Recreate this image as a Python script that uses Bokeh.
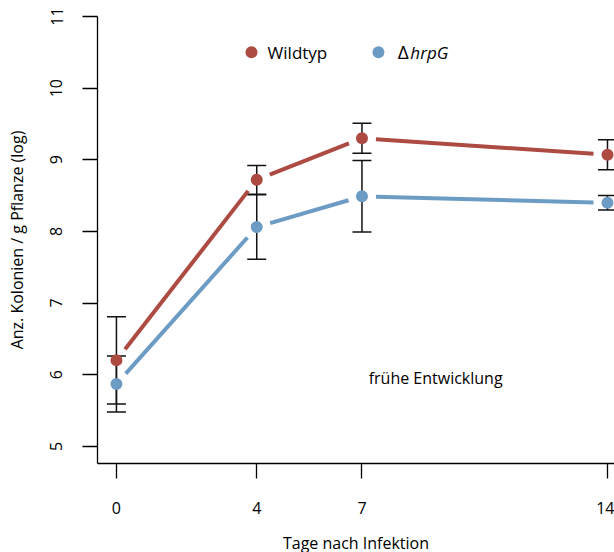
import numpy as np
from bokeh.plotting import figure
from bokeh.models import Range1d, FixedTicker, Whisker, TeeHead, ColumnDataSource, Label
from bokeh.embed import file_html
from bokeh.resources import INLINE

# ---- data ----
days = [0, 4, 7, 14]
wt_mean = [6.20, 8.72, 9.30, 9.07]
wt_err = [0.61, 0.20, 0.21, 0.21]
hrp_mean = [5.87, 8.06, 8.49, 8.40]
hrp_err = [0.39, 0.45, 0.50, 0.10]
x_ticks = [0, 4, 7, 14]
y_ticks = [5, 6, 7, 8, 9, 10, 11]

RED = "#AD4A42"
BLUE = "#6C9BC4"
FONT = "Open Sans"

X0, X1 = -0.54, 14.2
Y0, Y1 = 4.76, 11.0
FW, FH = 517, 447

p = figure(width=614, height=552, output_backend="svg", toolbar_location=None,
           x_range=Range1d(X0, X1), y_range=Range1d(Y0, Y1),
           min_border_left=97, min_border_right=0, min_border_top=16, min_border_bottom=89)
p.frame_width = FW
p.frame_height = FH
p.outline_line_color = None
p.xgrid.visible = False
p.ygrid.visible = False
p.background_fill_color = "white"
p.border_fill_color = "white"

for ax in (p.xaxis[0], p.yaxis[0]):
    ax.axis_line_color = "black"
    ax.axis_line_width = 1.3
    ax.major_tick_line_color = "black"
    ax.major_tick_line_width = 1.3
    ax.major_tick_out = 15
    ax.major_tick_in = 0
    ax.minor_tick_line_color = None
    ax.major_label_text_font = FONT
    ax.major_label_text_font_size = "16px"
    ax.major_label_text_color = "black"
    ax.axis_label_text_font = FONT
    ax.axis_label_text_font_size = "16px"
    ax.axis_label_text_font_style = "normal"
    ax.axis_label_text_color = "black"

p.xaxis.ticker = FixedTicker(ticks=x_ticks)
p.yaxis.ticker = FixedTicker(ticks=y_ticks)
p.xaxis.axis_label = "Tage nach Infektion"
p.yaxis.axis_label = "Anz. Kolonien / g Pflanze (log)"
p.xaxis.major_label_standoff = 23
p.xaxis.axis_label_standoff = 15
p.yaxis.major_label_orientation = "vertical"
p.yaxis.major_label_standoff = 20
p.yaxis.axis_label_standoff = 20

sx = FW / (X1 - X0)
sy = FH / (Y1 - Y0)
GAP = 14.0


def gapped_segments(xs, ys):
    x0s, y0s, x1s, y1s = [], [], [], []
    for i in range(len(xs) - 1):
        a = np.array([xs[i] * sx, ys[i] * sy])
        b = np.array([xs[i + 1] * sx, ys[i + 1] * sy])
        d = b - a
        u = d / np.linalg.norm(d)
        a2 = a + u * GAP
        b2 = b - u * GAP
        x0s.append(a2[0] / sx); y0s.append(a2[1] / sy)
        x1s.append(b2[0] / sx); y1s.append(b2[1] / sy)
    return x0s, y0s, x1s, y1s


for mean, col in ((wt_mean, RED), (hrp_mean, BLUE)):
    a, b, c, d = gapped_segments(days, mean)
    p.segment(a, b, c, d, line_color=col, line_width=4, line_cap="butt")

p.scatter(days, wt_mean, size=12, color=RED, line_color=None)
p.scatter(days, hrp_mean, size=12, color=BLUE, line_color=None)

for mean, err in ((wt_mean, wt_err), (hrp_mean, hrp_err)):
    src = ColumnDataSource(dict(x=days,
                                lo=[m - e for m, e in zip(mean, err)],
                                hi=[m + e for m, e in zip(mean, err)]))
    w = Whisker(source=src, base="x", lower="lo", upper="hi",
                line_color="#111111", line_width=1.5,
                upper_head=TeeHead(size=19, line_color="#111111", line_width=1.5),
                lower_head=TeeHead(size=19, line_color="#111111", line_width=1.5))
    p.add_layout(w)

# legend (manual)
LEG_Y = 10.5
p.scatter([3.85], [LEG_Y], size=12, color=RED, line_color=None)
p.scatter([7.47], [LEG_Y], size=12, color=BLUE, line_color=None)
p.add_layout(Label(x=4.31, y=LEG_Y, text="Wildtyp", text_font=FONT, text_font_size="17px",
                   text_baseline="middle", text_color="black"))
p.add_layout(Label(x=8.02, y=LEG_Y, text="Δ", text_font=FONT, text_font_size="19px",
                   text_baseline="middle", text_color="black"))
p.add_layout(Label(x=8.38, y=LEG_Y, text="hrpG", text_font=FONT, text_font_size="17px",
                   text_font_style="italic", text_baseline="middle", text_color="black"))

p.add_layout(Label(x=9.10, y=5.96, text="frühe Entwicklung", text_font=FONT,
                   text_font_size="16px", text_align="center", text_baseline="middle",
                   text_color="black"))

open("out.html", "w").write(file_html(p, INLINE))
